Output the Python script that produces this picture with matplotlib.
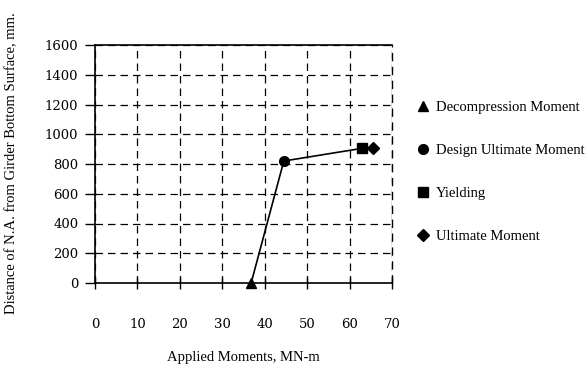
import matplotlib
matplotlib.use("Agg")
from matplotlib import pyplot as plt

# points
moments = [36.8, 44.5, 62.9, 65.6]
na_depth = [0, 820, 905, 905]
labels = ['Decompression Moment', 'Design Ultimate Moment', 'Yielding', 'Ultimate Moment']
markers = ['^', 'o', 's', 'D']
msizes = [7, 7, 7, 6]

x_ticks = [0, 10, 20, 30, 40, 50, 60, 70]
y_ticks = [0, 200, 400, 600, 800, 1000, 1200, 1400, 1600]

fig = plt.figure(figsize=(5.86, 3.69), dpi=100)
ax = fig.add_axes([95 / 586, 1 - 283 / 369, 297 / 586, 238 / 369])

ax.plot(moments, na_depth, color='black', lw=1.2, zorder=3)
handles = []
for x, y, lab, m, s in zip(moments, na_depth, labels, markers, msizes):
    h, = ax.plot([x], [y], linestyle='none', marker=m, ms=s, color='black',
                 label=lab, zorder=4, clip_on=False)
    handles.append(h)

ax.set_xlim(0, 70)
ax.set_ylim(0, 1600)
ax.set_xticks(x_ticks)
ax.set_yticks(y_ticks)
ax.grid(True, color='black', linestyle=(0, (6, 4)), lw=0.9)
ax.axvline(70, color='black', linestyle=(0, (6, 4)), lw=1.0, clip_on=False)
ax.set_axisbelow(True)
ax.spines['right'].set_visible(False)
for sp in ['left', 'bottom', 'top']:
    ax.spines[sp].set_linewidth(1.2)

tick_font = {'family': 'DejaVu Serif', 'size': 9.5}
ax.set_xticklabels([str(t) for t in x_ticks], fontdict=tick_font)
ax.set_yticklabels([str(t) for t in y_ticks], fontdict=tick_font)
ax.tick_params(axis='x', direction='inout', length=9, width=1, pad=21)
ax.tick_params(axis='y', direction='out', length=7, width=1, pad=5)

fig.text(243 / 586, 1 - 358 / 369, 'Applied Moments, MN-m', ha='center', va='center',
         family='Liberation Serif', fontsize=10.5)
fig.text(12 / 586, 1 - 163 / 369, 'Distance of N.A. from Girder Bottom Surface, mm.',
         rotation=90, ha='center', va='center', family='Liberation Serif', fontsize=10.5)

fig.legend(handles=handles, loc='upper left', bbox_to_anchor=(417 / 586, 1 - 101 / 369),
           frameon=False, prop={'family': 'Liberation Serif', 'size': 10.5},
           labelspacing=2.03, handlelength=0.8, handletextpad=0.5, borderpad=0,
           borderaxespad=0)

fig.savefig('out.png', dpi=100)
